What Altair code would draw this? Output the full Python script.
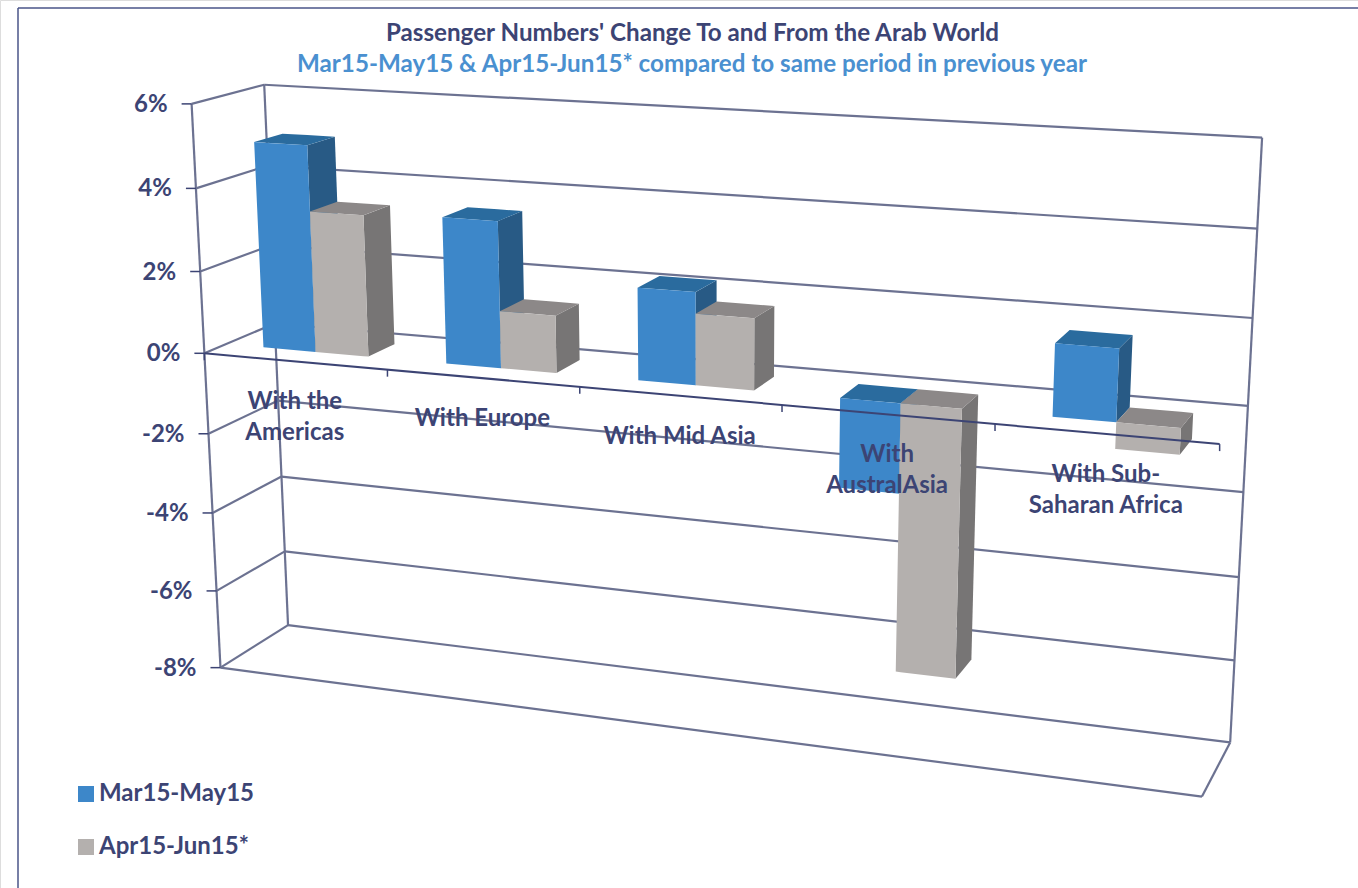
import altair as alt
import numpy as np
import pandas as pd

W, H = 1358, 888

categories = ["With the\nAmericas", "With Europe", "With Mid Asia", "With\nAustralAsia", "With Sub-\nSaharan Africa"]
series_names = ["Mar15-May15", "Apr15-Jun15*"]
mar_may = [5.0, 3.5, 2.18, -2.1, 1.65]
apr_jun = [3.42, 1.37, 1.68, -6.35, -0.6]
value_ticks = [6, 4, 2, 0, -2, -4, -6, -8]
title_main = "Passenger Numbers' Change To and From the Arab World"
title_sub = "Mar15-May15 & Apr15-Jun15* compared to same period in previous year"

NAVY = "#3c4474"
GRID = "#6c7291"
BLUE = "#3d87c9"
BLUE_SIDE = "#285a85"
BLUE_TOP = "#2a6b9e"
GRAY = "#b4b0ae"
GRAY_SIDE = "#777575"
GRAY_TOP = "#8c8888"
FONT = "Lato"

# Oblique camera of the 3-D box, solved from (category, value, depth) -> screen pairs.
camera_points = [
    (0, 6, 0, 190, 103), (0, 4, 0, 197, 188), (0, 2, 0, 201, 270), (0, 0, 0, 205, 353),
    (0, -2, 0, 209, 433), (0, -4, 0, 213, 512), (0, -6, 0, 216, 590), (0, -8, 0, 220, 667),
    (0, 6, 1, 265, 85), (0, 0, 1, 273, 325), (0, -4, 1, 282, 477), (0, -6, 1, 285, 551), (0, -8, 1, 288, 627),
    (5, 6, 1, 1262, 138), (5, 4, 1, 1257, 228), (5, 2, 1, 1253, 318), (5, 0, 1, 1248, 405),
    (5, -2, 1, 1243, 490), (5, -4, 1, 1239, 577), (5, -6, 1, 1235, 660), (5, -8, 1, 1230, 742),
    (5, 0, 0, 1220, 445), (5, -8, 0, 1202, 797),
    (1, 0, 0, 387, 370), (2, 0, 0, 580, 389), (3, 0, 0, 781, 407), (4, 0, 0, 995, 425),
]


def solve_camera(points):
    rows = []
    for u, v, d, sx, sy in points:
        X = [u, v, d, 1.0]
        rows.append(X + [0, 0, 0, 0] + [-sx * c for c in X])
        rows.append([0, 0, 0, 0] + X + [-sy * c for c in X])
    return np.linalg.svd(np.array(rows, dtype=float))[2][-1].reshape(3, 4)


CAM = solve_camera(camera_points)


def project(u, v, d):
    q = CAM @ np.array([u, v, d, 1.0])
    return float(q[0] / q[2]), float(q[1] / q[2])


def segment_frame(segments):
    rows = []
    for i, (a, b) in enumerate(segments):
        for order, p in enumerate((a, b)):
            x, y = project(*p)
            rows.append({"seg": i, "o": order, "x": x, "y": y})
    return pd.DataFrame(rows)


def polygon_rows(pid, corners, series):
    """Express a convex screen polygon as area-mark rows (x, upper y, lower y)."""
    pts = [project(*c) for c in corners]
    n = len(pts)
    rows = []
    for x in sorted({p[0] for p in pts}):
        ys = []
        for i in range(n):
            (x0, y0), (x1, y1) = pts[i], pts[(i + 1) % n]
            if min(x0, x1) <= x <= max(x0, x1):
                if x0 == x1:
                    ys += [y0, y1]
                else:
                    ys.append(y0 + (y1 - y0) * (x - x0) / (x1 - x0))
        rows.append({"poly": pid, "series": series, "x": x, "y": min(ys), "y2": max(ys)})
    return rows


# Bar layout inside one category slot and along the depth of the box.
U_START, U_END = 0.21, 0.79
D_FRONT, D_BACK = 0.30, 0.70


def bar_faces(values, slot, series):
    front, side, top = [], [], []
    width = (U_END - U_START) / 2
    for i, val in enumerate(values):
        a = i + U_START + slot * width
        b = a + width
        hi = max(val, 0)
        lo = min(val, 0)
        pid = f"{series}-{i}"
        front += polygon_rows(pid, [(a, hi, D_FRONT), (b, hi, D_FRONT), (b, lo, D_FRONT), (a, lo, D_FRONT)], series)
        side += polygon_rows(pid, [(b, hi, D_FRONT), (b, hi, D_BACK), (b, lo, D_BACK), (b, lo, D_FRONT)], series)
        top += polygon_rows(pid, [(a, hi, D_FRONT), (a, hi, D_BACK), (b, hi, D_BACK), (b, hi, D_FRONT)], series)
    return pd.DataFrame(front), pd.DataFrame(side), pd.DataFrame(top)


x_enc = alt.X("x:Q", scale=alt.Scale(domain=[0, W], nice=False, zero=False), axis=None)
y_enc = alt.Y("y:Q", scale=alt.Scale(domain=[H, 0], nice=False, zero=False), axis=None)


def lines(df, color, width):
    return alt.Chart(df).mark_line(color=color, strokeWidth=width, interpolate="linear").encode(
        x=x_enc, y=y_enc, detail="seg:N", order="o:Q"
    )


def faces(df, color):
    return alt.Chart(df).mark_area(orient="vertical", opacity=1).encode(
        x=x_enc, y=y_enc, y2="y2:Q", detail="poly:N", color=alt.value(color)
    )


def fronts(df):
    return alt.Chart(df).mark_area(orient="vertical", opacity=1).encode(
        x=x_enc,
        y=y_enc,
        y2="y2:Q",
        detail="poly:N",
        color=alt.Color(
            "series:N",
            scale=alt.Scale(domain=series_names, range=[BLUE, GRAY]),
            legend=alt.Legend(
                title=None,
                orient="none",
                legendX=74,
                legendY=782,
                symbolType="square",
                symbolSize=256,
                symbolStrokeWidth=0,
                symbolOpacity=1,
                labelFont=FONT,
                labelFontWeight="bold",
                labelFontSize=24,
                labelColor=NAVY,
                labelOffset=1,
                rowPadding=29,
                values=series_names,
            ),
        ),
    )


def captions(df, size, color, align="center", baseline="middle", dx=0, dy=0, **kw):
    return alt.Chart(df).mark_text(
        font=FONT, fontWeight="bold", fontSize=size, color=color, align=align,
        baseline=baseline, dx=dx, dy=dy, **kw
    ).encode(x=x_enc, y=y_enc, text="label:N")


# Box wireframe: back wall, left wall and floor.
wall_segments = []
for t in value_ticks:
    wall_segments.append(((0, t, 0), (0, t, 1)))
    wall_segments.append(((0, t, 1), (5, t, 1)))
wall_segments += [
    ((0, 6, 0), (0, -8, 0)),
    ((0, 6, 1), (0, -8, 1)),
    ((5, 6, 1), (5, -8, 1)),
    ((0, -8, 0), (5, -8, 0)),
    ((5, -8, 0), (5, -8, 1)),
]
walls = segment_frame(wall_segments)
axis_line = segment_frame([((0, 0, 0), (5, 0, 0))])

# Tick stubs on both axes.
tick_rows = []
for i, t in enumerate(value_ticks):
    x, y = project(0, t, 0)
    tick_rows.append({"x": x - 10, "x2": x, "y": y, "y2": y})
for i in range(len(categories) + 1):
    x, y = project(i, 0, 0)
    tick_rows.append({"x": x, "x2": x, "y": y, "y2": y + 7})
ticks = pd.DataFrame(tick_rows)
tick_layer = alt.Chart(ticks).mark_rule(color=NAVY, strokeWidth=1.5).encode(
    x=x_enc, x2="x2:Q", y=y_enc, y2="y2:Q"
)

value_labels = pd.DataFrame(
    [{"x": project(0, t, 0)[0], "y": project(0, t, 0)[1], "label": f"{t}%"} for t in value_ticks]
)
cat_labels = pd.DataFrame(
    [{"x": project(i + 0.5, 0, 0)[0], "y": project(i + 0.5, 0, 0)[1], "label": c} for i, c in enumerate(categories)]
)
title_rows = pd.DataFrame({"x": [692.5], "y": [34], "label": [title_main]})
subtitle_rows = pd.DataFrame({"x": [692], "y": [65], "label": [title_sub]})

blue_front, blue_side, blue_top = bar_faces(mar_may, 0, series_names[0])
gray_front, gray_side, gray_top = bar_faces(apr_jun, 1, series_names[1])

frame_top = alt.Chart(pd.DataFrame({"k": [0]})).mark_rule(color="#4a5488", strokeWidth=1.5).encode(
    x=alt.value(18), x2=alt.value(W), y=alt.value(8)
)
frame_left = alt.Chart(pd.DataFrame({"k": [0]})).mark_rule(color="#4a5488", strokeWidth=1.5).encode(
    x=alt.value(18), y=alt.value(8), y2=alt.value(H)
)

chart = alt.layer(
    frame_top,
    frame_left,
    lines(walls, GRID, 2.2),
    faces(blue_side, BLUE_SIDE),
    faces(blue_top, BLUE_TOP),
    fronts(blue_front),
    faces(gray_side, GRAY_SIDE),
    faces(gray_top, GRAY_TOP),
    fronts(gray_front),
    lines(axis_line, NAVY, 2),
    tick_layer,
    captions(value_labels, 24, NAVY, align="right", dx=-24, dy=1),
    captions(cat_labels, 24, NAVY, baseline="top", dy=29, lineBreak="\n", lineHeight=31),
    captions(title_rows, 24.2, NAVY),
    captions(subtitle_rows, 24.2, "#4a90d0"),
).properties(
    width=W, height=H, padding=0, autosize=alt.AutoSizeParams(type="none")
).configure_view(stroke=None).configure(background="white")

chart.save("out.html", embed_options={"renderer": "svg", "actions": False})
